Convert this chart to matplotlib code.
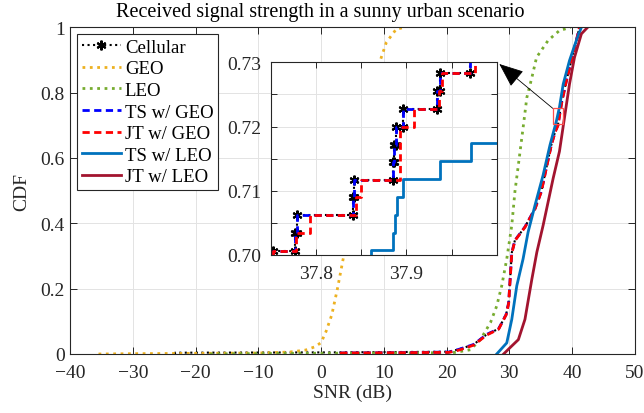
import numpy as np
import matplotlib
matplotlib.use('Agg')
import matplotlib.pyplot as plt
from matplotlib.lines import Line2D
from matplotlib.patches import Rectangle

plt.rcParams['font.family'] = ['Liberation Serif', 'DejaVu Serif']
plt.rcParams['mathtext.fontset'] = 'stix'

# colours (MATLAB default palette + pure r/b)
c_geo = '#EDB120'
c_leo = '#77AC30'
c_tsleo = '#0072BD'
c_jtleo = '#A2142F'
dark = '#262626'

# ---- main curves (CDF knots) ----
cell_x = [-23.3, -23.3, 3.2, 20.4, 22.0, 24.3, 26.4, 28.3, 29.5, 29.9, 30.4, 30.9, 32.5, 34.1,
          35.1, 35.9, 36.7, 37.3, 37.75, 38.0, 38.4, 39.1, 39.9, 40.7, 41.2]
cell_y = [0.0, 0.004, 0.005, 0.007, 0.0145, 0.029, 0.060, 0.077, 0.121, 0.157, 0.310, 0.348, 0.389, 0.445,
          0.497, 0.569, 0.640, 0.680, 0.700, 0.730, 0.775, 0.836, 0.898, 0.960, 1.0]

geo_x = [-35.5, -30, -20, -10, -5, -2.5, -1, 0, 0.8, 1.7, 2.6, 3.6, 4.6, 5.6, 6.6, 7.6, 8.5, 9.4,
         10.4, 12.0, 13.5]
geo_y = [0.0, 0.001, 0.002, 0.003, 0.006, 0.012, 0.022, 0.035, 0.07, 0.12, 0.20, 0.30, 0.42, 0.54,
         0.65, 0.75, 0.83, 0.897, 0.954, 0.995, 1.0]

leo_x = [-17.7, -5, 10, 20.0, 21.4, 23.8, 25.4, 27.0, 28.0, 28.8, 29.6, 30.4, 30.9, 31.45, 32.2,
         32.8, 33.6, 34.35, 36.2, 38.0, 39.8]
leo_y = [0.0, 0.002, 0.003, 0.004, 0.005, 0.013, 0.044, 0.096, 0.147, 0.209, 0.291, 0.394, 0.497,
         0.579, 0.692, 0.785, 0.846, 0.908, 0.960, 0.990, 1.0]

tsgeo_x = [3.2, 3.2, 12.0, 20.4, 22.0, 24.3, 26.4, 28.3, 29.5, 29.9, 30.4, 30.9, 32.5, 34.1,
           35.1, 35.9, 36.7, 37.3, 37.75, 38.0, 38.4, 39.1, 39.9, 40.7, 41.2]
tsgeo_y = [0.0, 0.003, 0.004, 0.006, 0.0145, 0.029, 0.060, 0.077, 0.121, 0.157, 0.310, 0.348, 0.389, 0.445,
           0.497, 0.569, 0.640, 0.680, 0.700, 0.730, 0.775, 0.836, 0.898, 0.960, 1.0]

jtgeo_x = [3.2, 3.2, 12.0, 20.4, 22.0, 24.3, 26.4, 28.3, 29.5, 29.9, 30.4, 30.9, 32.5, 34.1,
           35.1, 35.9, 36.7, 37.3, 37.78, 38.02, 38.4, 39.1, 39.9, 40.7, 41.2]
jtgeo_y = [0.0, 0.003, 0.004, 0.005, 0.012, 0.027, 0.058, 0.076, 0.120, 0.155, 0.308, 0.347, 0.388, 0.444,
           0.496, 0.568, 0.639, 0.679, 0.700, 0.730, 0.774, 0.835, 0.897, 0.959, 1.0]

tsleo_x = [28.0, 29.6, 30.4, 31.2, 32.2, 33.0, 34.1, 35.4, 36.5, 37.5, 38.0, 38.6, 39.6, 40.7, 41.5]
tsleo_y = [0.0, 0.034, 0.106, 0.209, 0.291, 0.373, 0.455, 0.548, 0.640, 0.712, 0.755, 0.826, 0.898,
           0.960, 1.0]

jtleo_x = [29.1, 30.1, 31.45, 32.5, 33.6, 34.4, 35.4, 37.0, 38.0, 38.8, 39.6, 40.4, 41.5, 42.5]
jtleo_y = [0.0, 0.019, 0.044, 0.106, 0.229, 0.312, 0.394, 0.538, 0.620, 0.723, 0.826, 0.908, 0.980, 1.0]

# ---- zoomed-in ECDF steps (x where step happens, level after it) ----
zcell_x = [37.740, 37.7530, 37.7768, 37.7786, 37.8409, 37.8420, 37.8856, 37.8863, 37.8881, 37.8964,
           37.9338, 37.9378, 37.9709, 38.01]
zcell_y = [0.6979, 0.7007, 0.7034, 0.7062, 0.7090, 0.7117, 0.7145, 0.7172, 0.7200, 0.7228,
           0.7255, 0.7283, 0.7310, 0.7310]

zjt_x = [37.740, 37.7530, 37.7783, 37.7938, 37.8446, 37.8500, 37.8928, 37.9090, 37.9367, 37.9396,
         37.9755, 38.01]
zjt_y = [0.6979, 0.7007, 0.7034, 0.7062, 0.7090, 0.7117, 0.7200, 0.7228, 0.7255, 0.7283,
         0.7310, 0.7310]

ztsleo_x = [37.850, 37.8612, 37.8856, 37.8875, 37.8895, 37.8960, 37.9378, 37.9716, 38.01]
ztsleo_y = [0.6980, 0.7008, 0.7035, 0.7063, 0.7091, 0.7118, 0.7146, 0.7174, 0.7174]

labels = ['Cellular', 'GEO', 'LEO', 'TS w/ GEO', 'JT w/ GEO', 'TS w/ LEO', 'JT w/ LEO']

ast = (6, 2, 0)
dash = (2.6, 1.6)


def corners(x, y):
    # stair vertices so markers sit on every corner
    x = np.asarray(x)
    y = np.asarray(y)
    return np.repeat(x, 2)[1:], np.repeat(y, 2)[:-1]


fig = plt.figure(figsize=(6.44, 4.14), dpi=100)
ax = fig.add_axes([70.3 / 644, 1 - 355 / 414, 564.4 / 644, 326.7 / 414])

ax.plot(cell_x, cell_y, ':', color='k', lw=1.5)
ax.plot(geo_x, geo_y, ':', color=c_geo, lw=2)
ax.plot(leo_x, leo_y, ':', color=c_leo, lw=2)
ax.plot(tsgeo_x, tsgeo_y, '--', color='b', lw=2, dashes=dash)
ax.plot(jtgeo_x, jtgeo_y, '--', color='r', lw=2, dashes=dash)
ax.plot(tsleo_x, tsleo_y, '-', color=c_tsleo, lw=2)
ax.plot(jtleo_x, jtleo_y, '-', color=c_jtleo, lw=2)

ax.set_xlim(-40, 50)
ax.set_ylim(0, 1)
ax.set_xticks(np.arange(-40, 51, 10))
ax.set_yticks([0, 0.2, 0.4, 0.6, 0.8, 1.0])
ax.set_yticklabels(['0', '0.2', '0.4', '0.6', '0.8', '1'])
ax.grid(True, color='#e3e3e3', lw=0.7)
ax.set_axisbelow(True)
ax.tick_params(direction='in', length=5, width=0.7, top=True, right=True,
               labelsize=14, colors=dark, pad=4)
ax.tick_params(axis='x', pad=7)
for s in ax.spines.values():
    s.set_color(dark)
    s.set_linewidth(0.8)
ax.set_xlabel('SNR (dB)', fontsize=14, color=dark, labelpad=2)
ax.set_ylabel('CDF', fontsize=14, color=dark, labelpad=7)
fig.text(320 / 644, 1 - 13 / 414, 'Received signal strength in a sunny urban scenario',
         ha='center', va='center', fontsize=14.5, color='k')

handles = [Line2D([], [], ls=':', color='k', lw=1.5, marker=ast, ms=7, mew=1.5),
           Line2D([], [], ls=':', color=c_geo, lw=2),
           Line2D([], [], ls=':', color=c_leo, lw=2),
           Line2D([], [], ls='--', color='b', lw=2, dashes=dash),
           Line2D([], [], ls='--', color='r', lw=2, dashes=dash),
           Line2D([], [], ls='-', color=c_tsleo, lw=2),
           Line2D([], [], ls='-', color=c_jtleo, lw=2)]
leg = ax.legend(handles, labels, loc='upper left', bbox_to_anchor=(0.012, 0.98),
                borderaxespad=0, fontsize=13.5, handlelength=2.1, handletextpad=0.2,
                labelspacing=0.24, borderpad=0.25, fancybox=False, framealpha=1)
leg.get_frame().set_edgecolor(dark)
leg.get_frame().set_linewidth(0.8)

# marker box in the main axes
ax.add_patch(Rectangle((36.93, 0.703), 1.69, 0.049, fill=False, ec='#ff4d4d', lw=0.9, zorder=5))

# ---- inset ----
axi = fig.add_axes([270.7 / 644, 1 - 256 / 414, 226 / 644, 192.7 / 414])
cx, cy = corners(zcell_x, zcell_y)
axi.plot(cx, cy, ':', color='k', lw=1.5, marker=ast, ms=7, mew=1.5)
bx, by = corners(zcell_x, zcell_y)
axi.plot(bx, by, '--', color='b', lw=2, dashes=dash)
rx, ry = corners(zjt_x, zjt_y)
axi.plot(rx, ry, '--', color='r', lw=2, dashes=dash)
lx, ly = corners(ztsleo_x, ztsleo_y)
axi.plot(lx, ly, '-', color=c_tsleo, lw=2)

axi.set_xlim(37.75, 38.0)
axi.set_ylim(0.70, 0.73)
axi.set_xticks([37.8, 37.85, 37.9, 37.95])
axi.set_xticklabels(['37.8', '', '37.9', ''])
axi.set_yticks([0.70, 0.705, 0.71, 0.715, 0.72, 0.725, 0.73])
axi.set_yticklabels(['0.70', '', '0.71', '', '0.72', '', '0.73'])
axi.grid(True, color='#e3e3e3', lw=0.7)
axi.set_axisbelow(True)
axi.tick_params(direction='in', length=4, width=0.7, top=True, right=True,
                labelsize=14, colors=dark, pad=7)
for s in axi.spines.values():
    s.set_color(dark)
    s.set_linewidth(0.8)

# arrow from the box to the inset corner
ax.annotate('', xy=(499.3 / 644, 1 - 65 / 414), xycoords='figure fraction',
            xytext=(36.93, 0.752), textcoords='data',
            arrowprops=dict(arrowstyle='-|>,head_length=1.1,head_width=0.45', color='k',
                            lw=0.6, shrinkA=0, shrinkB=0, mutation_scale=14),
            zorder=10, annotation_clip=False)

fig.savefig('out.png', dpi=100)
